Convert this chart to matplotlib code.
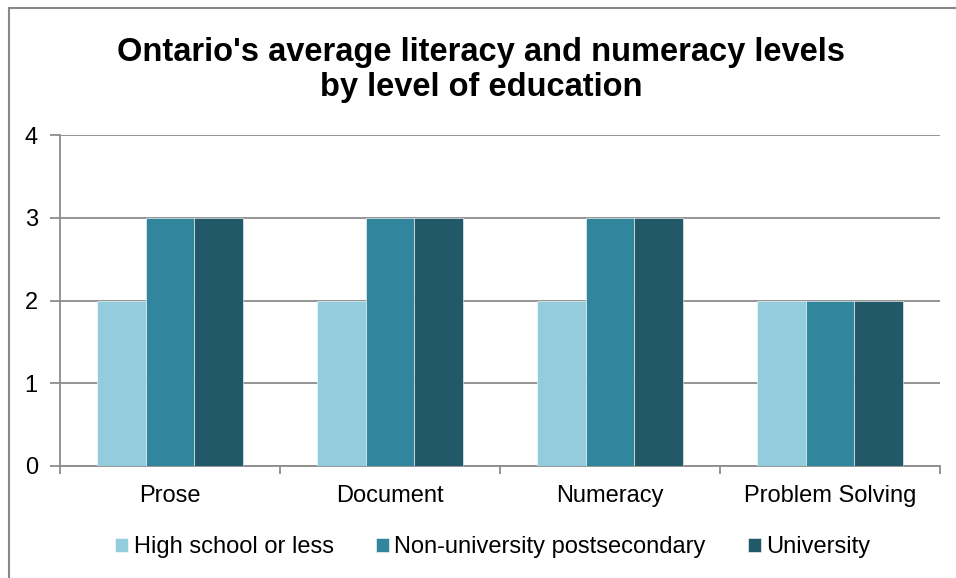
import matplotlib
matplotlib.use("Agg")
import matplotlib.pyplot as plt
from matplotlib.patches import Rectangle
import numpy as np

plt.rcParams['font.family'] = ['Liberation Sans', 'DejaVu Sans']

categories = ["Prose", "Document", "Numeracy", "Problem Solving"]
series_names = ["High school or less", "Non-university postsecondary", "University"]
high_school = [2, 2, 2, 2]
non_university = [3, 3, 3, 2]
university = [3, 3, 3, 2]
colors = ["#93CDDD", "#31859C", "#215968"]
y_ticks = [0, 1, 2, 3, 4]

W, H = 956, 578
fig = plt.figure(figsize=(W / 100, H / 100), dpi=100)

# outer chart frame
fig.patches.append(Rectangle((9 / W, -0.1), 1.2, (H - 8) / H + 0.1,
                             transform=fig.transFigure, fill=False,
                             edgecolor="#888888", linewidth=1.5))

left, right, top, bottom = 60, 940, 135, 466
ax = fig.add_axes([left / W, 1 - bottom / H, (right - left) / W, (bottom - top) / H])

x = np.arange(len(categories))
bw = 0.222
for i, (vals, col, name) in enumerate(zip([high_school, non_university, university], colors, series_names)):
    ax.bar(x + (i - 1) * bw, vals, width=bw, color=col, label=name,
           edgecolor="white", linewidth=0.4, zorder=3)

ax.set_xlim(-0.5, len(categories) - 0.5)
ax.set_ylim(0, 4)
ax.set_yticks(y_ticks)
ax.set_yticklabels([str(t) for t in y_ticks], fontsize=17)
ax.yaxis.grid(True, color="#8c8c8c", linewidth=1.3, zorder=0)
ax.set_axisbelow(True)

ax.set_xticks(x)
ax.set_xticklabels(categories, fontsize=17)
ax.tick_params(axis="x", length=0, pad=14)
ax.set_xticks(np.arange(-0.5, len(categories) + 0.5, 1), minor=True)
ax.tick_params(axis="x", which="minor", length=6, width=1.3, color="#8c8c8c")
ax.tick_params(axis="y", length=7, width=1.3, color="#8c8c8c", pad=9)

for s in ["top", "right"]:
    ax.spines[s].set_visible(False)
for s in ["left", "bottom"]:
    ax.spines[s].set_color("#8c8c8c")
    ax.spines[s].set_linewidth(1.3)

fig.text(481 / W, 1 - 70 / H, "Ontario's average literacy and numeracy levels\nby level of education",
         ha="center", va="center", fontsize=23.5, fontweight="bold", linespacing=1.15)

fig.legend(loc="center", bbox_to_anchor=(493 / W, 1 - 547 / H), ncol=3, frameon=False,
           fontsize=17, handlelength=0.55, handleheight=0.55, handletextpad=0.22,
           columnspacing=1.8)

fig.savefig("out.png", dpi=100)
